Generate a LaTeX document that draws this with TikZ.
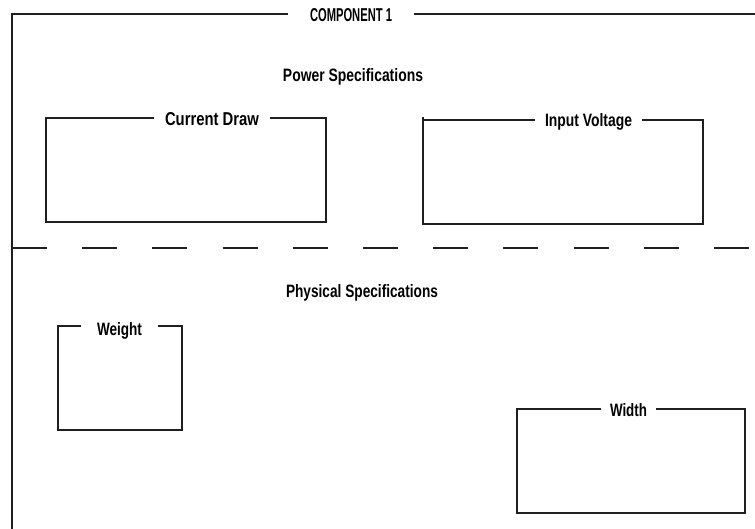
\documentclass[tikz,border=0pt]{standalone}
\usepackage{fontspec}
\usepackage{graphicx}
\setmainfont{Liberation Sans}
\newcommand{\fitlab}[2]{\resizebox{#1}{13pt}{\bfseries #2}}
\begin{document}
\begin{tikzpicture}[x=1pt,y=-1pt,
  frame/.style={line width=1.6pt,draw=black!88,line join=miter},
  lab/.style={anchor=base,inner ysep=0pt,text=black},
  divider/.style={line width=1.6pt,draw=black!88,dash pattern=on 35pt off 35.2pt}]
\useasboundingbox (0,0) rectangle (755,529);

% outer frame
\coordinate (otl) at (12,14);
\coordinate (obl) at (12,529);
\coordinate (otr) at (755,14);
\node[lab,inner xsep=22pt] (comp) at (351,21.5) {\fitlab{82pt}{COMPONENT 1}};
\draw[frame] (comp.west |- otl) -- (otl) -- (obl);
\draw[frame] (comp.east |- otl) -- (otr);

% section headings
\node[lab,inner xsep=0pt] (power) at (353,81.5) {\fitlab{140pt}{Power Specifications}};
\node[lab,inner xsep=0pt] (phys) at (362,298) {\fitlab{152pt}{Physical Specifications}};

% divider
\coordinate (dl) at (12,248);
\coordinate (dr) at (755,248);
\draw[divider] (dl) -- (dr);

% Current Draw box
\coordinate (a1) at (46,118); \coordinate (a2) at (46,222);
\coordinate (a3) at (326,222); \coordinate (a4) at (326,118);
\node[lab,inner xsep=10.5pt] (cd) at (212,125.5) {\fitlab{94pt}{Current Draw}};
\draw[frame] (cd.west |- a1) -- (a1) -- (a2) -- (a3) -- (a4) -- (cd.east |- a4);

% Input Voltage box
\coordinate (b0) at (423,117);
\coordinate (b1) at (423,120); \coordinate (b2) at (423,224);
\coordinate (b3) at (703,224); \coordinate (b4) at (703,120);
\node[lab,inner xsep=10pt] (iv) at (588.5,126.5) {\fitlab{87pt}{Input Voltage}};
\draw[frame] (iv.west |- b1) -- (b1) -- (b2) -- (b3) -- (b4) -- (iv.east |- b4);
\draw[frame] (b0) -- (b1);

% Weight box
\coordinate (c1) at (58,326); \coordinate (c2) at (58,430);
\coordinate (c3) at (182,430); \coordinate (c4) at (182,326);
\node[lab,inner xsep=16pt] (wt) at (119.5,335) {\fitlab{45pt}{Weight}};
\draw[frame] (wt.west |- c1) -- (c1) -- (c2) -- (c3) -- (c4) -- (wt.east |- c4);

% Width box
\coordinate (d1) at (517,409); \coordinate (d2) at (517,513);
\coordinate (d3) at (745,513); \coordinate (d4) at (745,409);
\node[lab,inner xsep=8.5pt] (wd) at (628.5,416.5) {\fitlab{37pt}{Width}};
\draw[frame] (wd.west |- d1) -- (d1) -- (d2) -- (d3) -- (d4) -- (wd.east |- d4);
\end{tikzpicture}
\end{document}
